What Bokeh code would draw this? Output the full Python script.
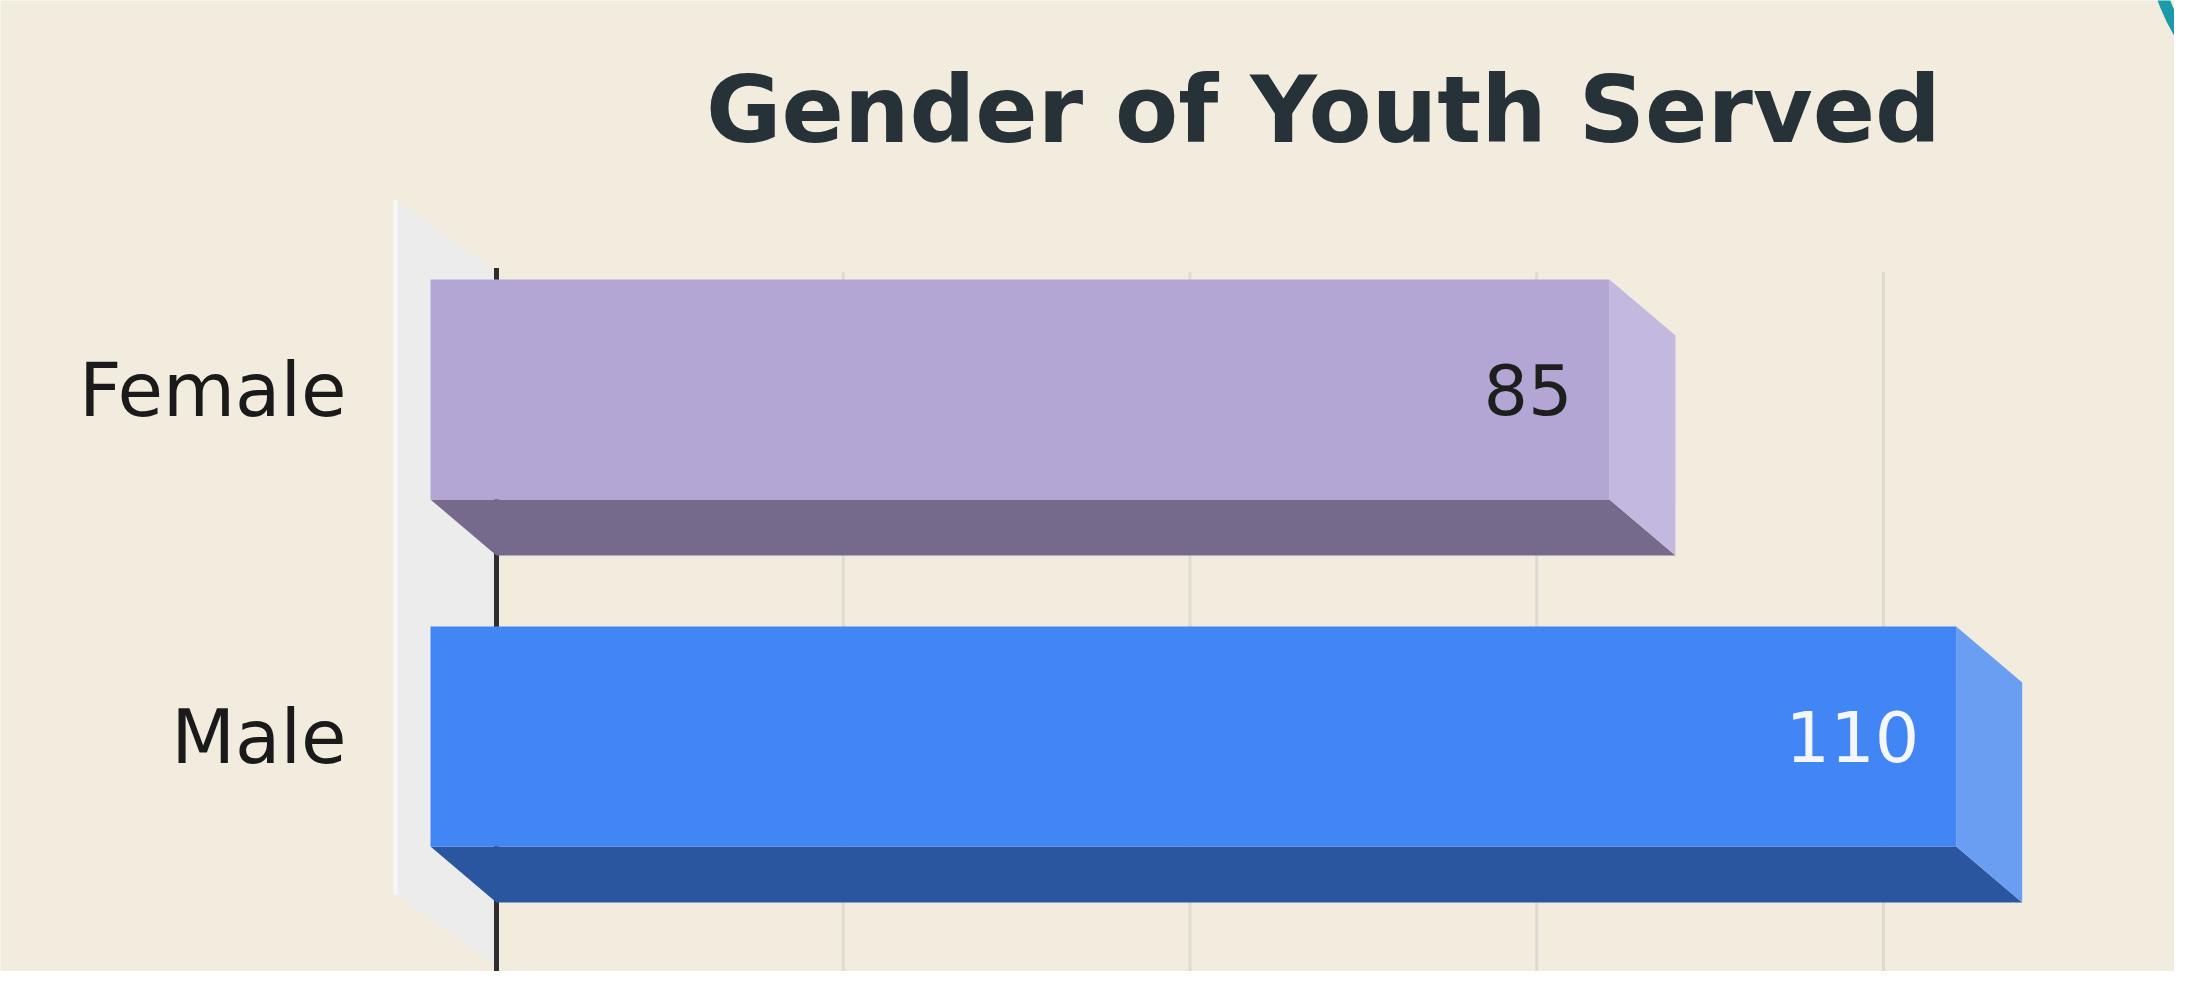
from bokeh.plotting import figure
from bokeh.models import Range1d
from bokeh.core.properties import value
from bokeh.embed import file_html
from bokeh.resources import INLINE

# ---------------- data ----------------
categories = ["Female", "Male"]
counts = [85, 110]
front_colors = ["#b3a6d5", "#4285f4"]
bottom_colors = ["#766a8c", "#2a56a0"]
side_colors = ["#c3b8e0", "#6a9ef2"]
value_label_colors = ["#1e1e1e", "#f4f7ff"]
grid_ticks = [25, 50, 75, 100]
title_text = "Gender of Youth Served"

# ---------------- layout / style constants ----------------
BG = "#f2ecdf"
W, H = 2174, 971
ZERO_X = 496          # px from canvas left to value 0 (back plane)
ROW0_Y = 389          # px from canvas top to first category (front face centre)
PX_X = 13.87          # px per count
PX_Y = 347.0          # px per category band
DX = 66 / PX_X        # 3D depth (bars) in data units
DY = 56 / PX_Y
HALF = 110 / PX_Y     # half bar thickness
WDX = 101 / PX_X      # 3D depth (side wall)
WDY = 72 / PX_Y
LABEL_RIGHT = 346     # px, right edge of category labels

n = len(categories)
ys = [n - 1 - i for i in range(n)]

x_start = -ZERO_X / PX_X
x_end = x_start + W / PX_X
y_end = ys[0] + ROW0_Y / PX_Y
y_start = y_end - H / PX_Y


def sx_(px):  # screen px -> data x
    return x_start + px / PX_X


def sy_(py):  # screen px -> data y
    return y_end - py / PX_Y


p = figure(width=W, height=H,
           x_range=Range1d(x_start, x_end), y_range=Range1d(y_start, y_end),
           output_backend="svg", toolbar_location=None,
           x_axis_location=None, y_axis_location=None,
           min_border=0,
           background_fill_color=BG, border_fill_color=BG,
           outline_line_color=None)
p.grid.grid_line_color = None

# back plane extents
plane_top = ys[0] - DY + 0.5
plane_bot = ys[-1] - DY - 0.5

# left side wall
p.patch(x=[0, 0, -WDX, -WDX], y=[plane_top, plane_bot, plane_bot + WDY, plane_top + WDY],
        fill_color="#ececec", line_color=None)
p.segment(x0=[-WDX], y0=[plane_top + WDY], x1=[-WDX], y1=[plane_bot + WDY],
          line_color="#f7f7f7", line_width=4)

# gridlines on back plane
p.segment(x0=grid_ticks, y0=[plane_top] * len(grid_ticks),
          x1=grid_ticks, y1=[y_start] * len(grid_ticks),
          line_color="#dfdad2", line_width=3)

# zero axis line
p.segment(x0=[0], y0=[plane_top + 4 / PX_Y], x1=[0], y1=[y_start],
          line_color="#2e2e2e", line_width=5)

# 3D bars
bx, by, rx, ry = [], [], [], []
for v, y in zip(counts, ys):
    bx.append([-DX, v - DX, v, 0])
    by.append([y - HALF, y - HALF, y - HALF - DY, y - HALF - DY])
    rx.append([v - DX, v - DX, v, v])
    ry.append([y - HALF, y + HALF, y + HALF - DY, y - HALF - DY])
p.patches(xs=bx, ys=by, fill_color=bottom_colors, line_color=None)
p.patches(xs=rx, ys=ry, fill_color=side_colors, line_color=None)
p.quad(left=[-DX] * n, right=[v - DX for v in counts],
       bottom=[y - HALF for y in ys], top=[y + HALF for y in ys],
       fill_color=front_colors, line_color=None)

# value labels
p.text(x=[v - DX for v in counts], y=ys, text=[str(v) for v in counts],
       x_offset=-37, text_align="right", text_baseline="middle",
       text_font=value("DejaVu Sans"), text_font_size="70px",
       text_color=value_label_colors)

# category labels
p.text(x=[sx_(LABEL_RIGHT)] * n, y=ys, text=categories,
       text_align="right", text_baseline="middle",
       text_font=value("DejaVu Sans"), text_font_size="74px",
       text_color="#1a1a1a")

# title
p.text(x=[sx_(1323)], y=[sy_(110)], text=[title_text],
       text_align="center", text_baseline="middle",
       text_font=value("DejaVu Sans"), text_font_style="bold",
       text_font_size="92px", text_color="#263238")

# decorative teal rings (top-right corner)
p.scatter(x=[sx_(2330)] * 2, y=[sy_(-60)] * 2,
          size=[354, 322], marker="circle", fill_color=None,
          line_color="#1b9aaa", line_width=[12, 8])

open("out.html", "w").write(file_html(p, INLINE))
